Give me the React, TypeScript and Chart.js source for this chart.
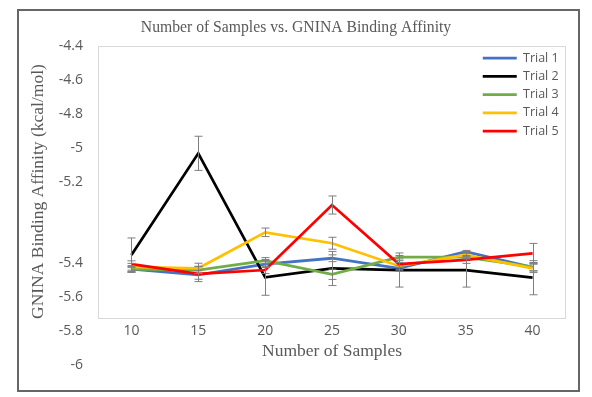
import React, { useEffect, useRef } from 'react';
import { Chart, registerables, LinearScale } from 'chart.js';

Chart.register(...registerables);

// ---- data ----
const SAMPLES = ['10', '15', '20', '25', '30', '35', '40'];
const Y_TICKS = [-6, -5.8, -5.6, -5.4, -5.2, -5, -4.8, -4.6, -4.4];
const SERIES_NAMES = ['Trial 1', 'Trial 2', 'Trial 3', 'Trial 4', 'Trial 5'];
const TRIAL_1 = [-5.707, -5.742, -5.678, -5.644, -5.703, -5.606, -5.697];
const TRIAL_2 = [-5.625, -5.029, -5.756, -5.704, -5.713, -5.713, -5.758];
const TRIAL_3 = [-5.707, -5.713, -5.658, -5.738, -5.638, -5.638, -5.694];
const TRIAL_4 = [-5.694, -5.703, -5.492, -5.556, -5.689, -5.625, -5.703];
const TRIAL_5 = [-5.679, -5.736, -5.713, -5.332, -5.678, -5.654, -5.615];
const TRIAL_1_ERR = [0.02, 0.025, 0.02, 0.02, 0.015, 0.008, 0.02];
const TRIAL_2_ERR = [0.1, 0.1, 0.105, 0.1, 0.1, 0.1, 0.1];
const TRIAL_3_ERR = [0.015, 0.02, 0.018, 0.03, 0.01, 0.01, 0.025];
const TRIAL_4_ERR = [0.02, 0.03, 0.025, 0.035, 0.02, 0.02, 0.025];
const TRIAL_5_ERR = [0.02, 0.045, 0.02, 0.053, 0.02, 0.02, 0.058];
const COLORS = ['#4472C4', '#000000', '#70AD47', '#FFC000', '#FF0000'];

const TITLE = 'Number of Samples vs. GNINA Binding Affinity';
const X_TITLE = 'Number of Samples';
const Y_TITLE = 'GNINA Binding Affinity (kcal/mol)';

const SANS = "'Open Sans', 'Noto Sans', sans-serif";
const SERIF = "'Liberation Serif', 'DejaVu Serif', serif";
const GREY = '#595959';

// Linear scale whose lower tick labels are drawn displaced (as in the reference image)
class ShiftedLabelScale extends LinearScale {
  static id = 'shiftedLabels';
  static defaults = LinearScale.defaults;
  getPixelForTick(index: number) {
    const base = super.getPixelForTick(index);
    const opts: any = this.options;
    const tick: any = this.ticks[index];
    const shift = opts.labelShift;
    if (tick && shift && tick.value < shift.below) return base + shift.offset;
    return base;
  }
}
Chart.register(ShiftedLabelScale as any);

const errorBarsPlugin = {
  id: 'errorBars',
  afterDatasetsDraw(chart: any) {
    const ctx = chart.ctx;
    const yScale = chart.scales.y;
    ctx.save();
    ctx.strokeStyle = '#7f7f7f';
    ctx.lineWidth = 1;
    chart.data.datasets.forEach((ds: any, i: number) => {
      const meta = chart.getDatasetMeta(i);
      if (meta.hidden) return;
      ds.errors.forEach((e: number, j: number) => {
        const pt = meta.data[j];
        const v = ds.data[j];
        const x = Math.round(pt.x) + 0.5;
        const yTop = yScale.getPixelForValue(v + e);
        const yBot = yScale.getPixelForValue(v - e);
        ctx.beginPath();
        ctx.moveTo(x, yTop);
        ctx.lineTo(x, yBot);
        ctx.moveTo(x - 4, yTop);
        ctx.lineTo(x + 4, yTop);
        ctx.moveTo(x - 4, yBot);
        ctx.lineTo(x + 4, yBot);
        ctx.stroke();
      });
    });
    ctx.restore();
  },
};

const plotBorderPlugin = {
  id: 'plotBorder',
  beforeDraw(chart: any) {
    const { ctx, chartArea } = chart;
    const { left, top, right, bottom } = chartArea;
    ctx.save();
    ctx.strokeStyle = '#d9d9d9';
    ctx.lineWidth = 1;
    ctx.strokeRect(Math.round(left) + 0.5, Math.round(top) + 0.5, Math.round(right - left) - 1, Math.round(bottom - top) - 1);
    ctx.restore();
  },
};

const legendPlacerPlugin = {
  id: 'legendPlacer',
  afterLayout(chart: any, _args: any, opts: any) {
    const lg = chart.legend;
    if (!lg) return;
    const area = chart.chartArea;
    const left = area.right - opts.insetRight;
    const top = area.top + opts.insetTop;
    lg.left = left;
    lg.top = top;
    lg.right = left + lg.width;
    lg.bottom = top + lg.height;
  },
};

export default function App() {
  const canvasRef = useRef<HTMLCanvasElement | null>(null);

  useEffect(() => {
    if (!canvasRef.current) return;
    const values = [TRIAL_1, TRIAL_2, TRIAL_3, TRIAL_4, TRIAL_5];
    const errors = [TRIAL_1_ERR, TRIAL_2_ERR, TRIAL_3_ERR, TRIAL_4_ERR, TRIAL_5_ERR];
    const datasets: any[] = SERIES_NAMES.map((name, i) => ({
      label: name,
      data: values[i],
      errors: errors[i],
      borderColor: COLORS[i],
      backgroundColor: COLORS[i],
      borderWidth: 2.75,
      pointRadius: 0,
      pointHoverRadius: 0,
      tension: 0,
      fill: false,
      order: SERIES_NAMES.length - i,
    }));

    const chart = new Chart(canvasRef.current, {
      type: 'line',
      data: { labels: SAMPLES, datasets },
      plugins: [plotBorderPlugin, errorBarsPlugin, legendPlacerPlugin],
      options: {
        animation: false,
        responsive: false,
        devicePixelRatio: 1,
        layout: { padding: { left: 26, right: 26, top: 0, bottom: 0 } },
        plugins: {
          title: {
            display: true,
            text: TITLE,
            color: GREY,
            font: { family: SERIF, size: 15.7, weight: 'normal' },
            padding: { top: 18.6, bottom: 8.56 },
          },
          legend: {
            position: 'chartArea' as any,
            align: 'start',
            labels: {
              usePointStyle: true,
              pointStyle: 'line',
              pointStyleWidth: 34,
              color: GREY,
              font: { family: SANS, size: 12.5 },
              padding: 5.75,
              sort: (a: any, b: any) => a.datasetIndex - b.datasetIndex,
            },
          },
          legendPlacer: { insetRight: 89, insetTop: 0 },
          tooltip: { enabled: false },
        } as any,
        scales: {
          x: {
            type: 'category',
            offset: true,
            grid: { display: false, drawTicks: false },
            border: { display: false },
            afterFit: (s: any) => { s.height = 78; },
            ticks: { padding: 4, color: GREY, font: { family: SANS, size: 14 }, maxRotation: 0, autoSkip: false },
            title: {
              display: true,
              text: X_TITLE,
              color: GREY,
              font: { family: SERIF, size: 17.5 },
              padding: { top: 0, bottom: 35.5 },
            },
          },
          y: {
            type: 'shiftedLabels' as any,
            min: -6,
            max: -4.4,
            labelShift: { below: -5.3, offset: 46.5 },
            grid: { display: false, drawTicks: false },
            border: { display: false },
            afterBuildTicks: (scale: any) => { scale.ticks = Y_TICKS.map((value) => ({ value })); },
            afterFit: (s: any) => { s.width = 72; },
            ticks: {
              autoSkip: false,
              padding: 15,
              color: GREY,
              font: { family: SANS, size: 14 },
              callback: (v: any) => String(v),
            },
            title: {
              display: true,
              text: Y_TITLE,
              align: 'start',
              color: GREY,
              font: { family: SERIF, size: 17.5 },
              padding: { top: 1.5, bottom: 0 },
            },
          } as any,
        },
      },
    });
    return () => chart.destroy();
  }, []);

  return (
    <div style={{ position: 'absolute', left: 0, top: 0, width: 592, height: 397, background: '#fff' }}>
      <canvas ref={canvasRef} width={592} height={397} style={{ display: 'block' }} />
      <div
        style={{
          position: 'absolute',
          left: 17,
          top: 9,
          width: 563,
          height: 383,
          border: '2px solid #666666',
          boxSizing: 'border-box',
          pointerEvents: 'none',
        }}
      />
    </div>
  );
}
